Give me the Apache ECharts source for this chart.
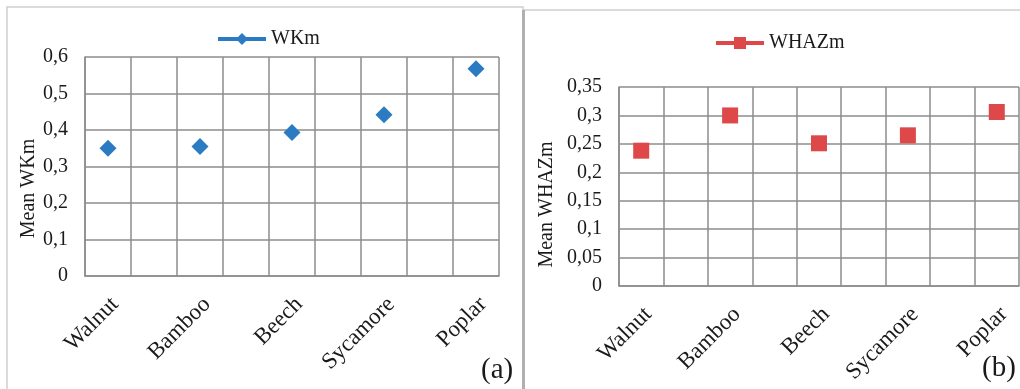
<!DOCTYPE html>
<html>
<head>
<meta charset="utf-8">
<script src="https://cdn.jsdelivr.net/npm/echarts@6/dist/echarts.min.js"></script>
<style>
html,body{margin:0;padding:0;background:#fff;}
#c{width:1020px;height:389px;}
</style>
</head>
<body>
<div id="c"></div>
<script>
// Data
const species = ['Walnut', 'Bamboo', 'Beech', 'Sycamore', 'Poplar'];
const wkm = [0.350, 0.355, 0.393, 0.442, 0.568];
const whazm = [0.238, 0.300, 0.251, 0.265, 0.306];
const yTicksA = ['0', '0,1', '0,2', '0,3', '0,4', '0,5', '0,6'];
const yTicksB = ['0', '0,05', '0,1', '0,15', '0,2', '0,25', '0,3', '0,35'];

// Each species occupies every second slot, leaving an empty slot between them
const slots = [];
species.forEach((s, i) => { if (i > 0) slots.push(''); slots.push(s); });
function spread(vals) {
  const out = [];
  vals.forEach((v, i) => { if (i > 0) out.push(null); out.push(v); });
  return out;
}

const FONT = 'Liberation Serif';
const TXT = '#1a1a1a';
const GRID = '#8c8c8c';
const BLUE = '#2b7bc3';
const RED = '#de4848';

function xAxisFor(gi, margin) {
  return {
    type: 'category', gridIndex: gi, data: slots, boundaryGap: true,
    axisLine: {show: true, lineStyle: {color: GRID, width: 1.5}},
    axisTick: {show: false},
    splitLine: {show: true, interval: 0, lineStyle: {color: GRID, width: 1.5}},
    axisLabel: {interval: 0, rotate: 45, margin: margin, color: TXT, fontFamily: FONT, fontSize: 23,
      padding: [0, -10, 0, 0]}
  };
}
function yAxisFor(gi, max, step, ticks, name, gap, pad) {
  return {
    type: 'value', gridIndex: gi, min: 0, max: max, interval: step,
    name: name, nameLocation: 'middle', nameGap: gap,
    nameTextStyle: {color: TXT, fontFamily: FONT, fontSize: 20, padding: pad},
    axisLine: {show: true, lineStyle: {color: GRID, width: 1.5}},
    axisTick: {show: false},
    splitLine: {show: true, lineStyle: {color: GRID, width: 1.5}},
    axisLabel: {margin: 17, color: TXT, fontFamily: FONT, fontSize: 20,
      formatter: (v) => ticks[Math.round(v / step)]}
  };
}

const chart = echarts.init(document.getElementById('c'), null, {renderer: 'canvas'});
chart.setOption({
  animation: false,
  backgroundColor: '#fff',
  grid: [
    {left: 85, top: 57, right: 521, bottom: 113},
    {left: 619, top: 87, right: 1, bottom: 103}
  ],
  legend: [
    {data: ['WKm'], left: 211, top: 24, itemWidth: 48, itemHeight: 15, itemGap: 4,
     textStyle: {color: TXT, fontFamily: FONT, fontSize: 20},
     lineStyle: {width: 4, opacity: 1, color: BLUE}},
    {data: ['WHAZm'], left: 709, top: 28, itemWidth: 48, itemHeight: 15,
     textStyle: {color: TXT, fontFamily: FONT, fontSize: 20},
     lineStyle: {width: 4, opacity: 1, color: RED}}
  ],
  xAxis: [xAxisFor(0, 32), xAxisFor(1, 32)],
  yAxis: [
    yAxisFor(0, 0.6, 0.1, yTicksA, 'Mean WKm', 46, [0, 44, 0, 0]),
    yAxisFor(1, 0.35, 0.05, yTicksB, 'Mean WHAZm', 62, [0, 36, 0, 0])
  ],
  series: [
    {name: 'WKm', type: 'line', xAxisIndex: 0, yAxisIndex: 0, data: spread(wkm),
     symbol: 'diamond', symbolSize: 17, showSymbol: true, connectNulls: false,
     itemStyle: {color: BLUE}, lineStyle: {opacity: 0, color: BLUE}},
    {name: 'WHAZm', type: 'line', xAxisIndex: 1, yAxisIndex: 1, data: spread(whazm),
     symbol: 'rect', symbolSize: 16, showSymbol: true, connectNulls: false,
     itemStyle: {color: RED}, lineStyle: {opacity: 0, color: RED}}
  ],
  graphic: [
    {type: 'rect', shape: {x: 7, y: 7, width: 516, height: 400}, silent: true,
     style: {fill: 'none', stroke: '#cfcfcf', lineWidth: 1.5}},
    {type: 'rect', shape: {x: 524, y: 10, width: 510, height: 400}, silent: true,
     style: {fill: 'none', stroke: '#cfcfcf', lineWidth: 1.5}},
    {type: 'rect', shape: {x: 522, y: 10, width: 3, height: 400}, silent: true,
     style: {fill: '#b0b0b0'}},
    {type: 'text', left: 481, top: 356, silent: true,
     style: {text: '(a)', font: '29px "Liberation Serif"', fill: TXT}},
    {type: 'text', left: 982, top: 354, silent: true,
     style: {text: '(b)', font: '29px "Liberation Serif"', fill: TXT}}
  ]
});
</script>
</body>
</html>
